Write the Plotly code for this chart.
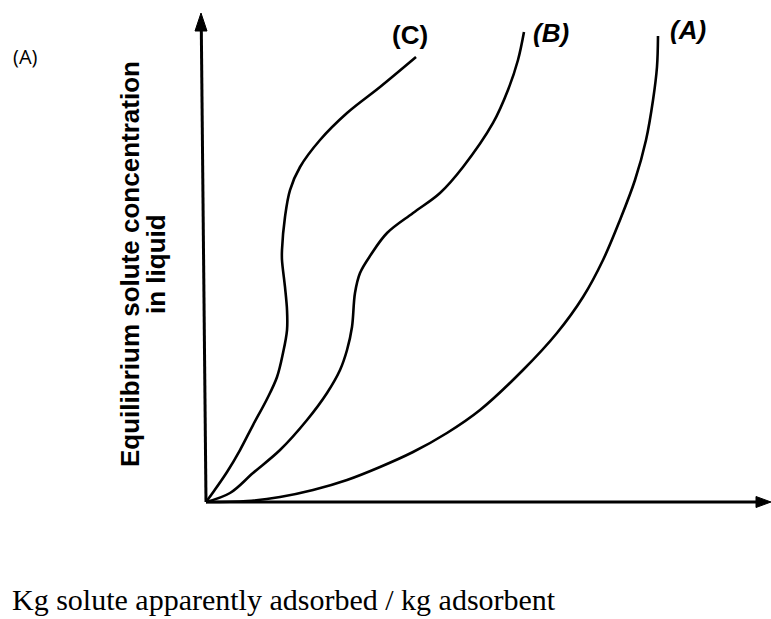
import plotly.graph_objects as go

# Curve data (arbitrary units, 0-100 on both axes)
curve_A_x = [0, 7.26, 13.1, 18.94, 24.96, 30.8, 36.64, 42.65, 48.5, 56.11, 62.12, 66.73, 70.27, 73.27, 75.93, 77.88, 79.12, 79.82, 80.0]
curve_A_y = [0, 0.2, 1.02, 2.45, 4.5, 7.16, 10.22, 14.11, 18.81, 26.99, 34.56, 41.92, 49.49, 57.67, 65.85, 74.03, 82.21, 88.96, 95.3]

curve_B_x = [0, 4.25, 8.32, 13.1, 17.88, 21.42, 23.72, 24.96, 25.84, 26.37, 27.26, 29.2, 32.04, 36.64, 41.42, 45.49, 50.8, 53.45, 55.22, 56.28]
curve_B_y = [0, 1.84, 5.93, 10.63, 16.77, 22.29, 26.99, 31.08, 35.79, 42.74, 46.83, 50.6, 55.01, 59.1, 63.19, 68.51, 77.51, 84.25, 90.39, 96.11]

curve_C_x = [0, 1.42, 3.72, 6.02, 8.32, 10.8, 12.57, 13.63, 14.34, 14.34, 13.98, 13.45, 13.45, 13.98, 14.87, 16.64, 20.18, 24.96, 30.8, 37.17]
curve_C_y = [0, 2.25, 6.13, 10.63, 15.74, 21.06, 25.56, 30.47, 35.17, 39.26, 43.97, 49.49, 51.53, 58.28, 63.8, 68.51, 74.03, 79.55, 84.87, 91.0]

curve_labels = ["(A)", "(B)", "(C)"]
y_label_lines = ["Equilibrium solute concentration", "in liquid"]
x_label = "Kg solute apparently adsorbed / kg adsorbent"
panel_label = "(A)"

W, H = 771, 619
ML, MR, MT, MB = 180, 0, 5, 100
X0PX, Y0PX = 206, 502
SX, SY = 5.65, 4.89
xr = [(ML - X0PX) / SX, (W - MR - X0PX) / SX]
yr = [(Y0PX - (H - MB)) / SY, (Y0PX - MT) / SY]


def dx(px):
    return (px - X0PX) / SX


def dy(py):
    return (Y0PX - py) / SY


def px_paper(px):
    return (px - ML) / (W - ML - MR)


def py_paper(py):
    return ((H - MB) - py) / (H - MT - MB)


fig = go.Figure()
line_style = dict(color="black", width=2.6, shape="spline", smoothing=1.0)
for xs, ys in [(curve_A_x, curve_A_y), (curve_B_x, curve_B_y), (curve_C_x, curve_C_y)]:
    fig.add_trace(go.Scatter(x=xs, y=ys, mode="lines", line=line_style,
                             hoverinfo="skip", showlegend=False))

shapes = [
    # x axis
    dict(type="line", xref="x", yref="y", x0=0, y0=0, x1=dx(758), y1=0,
         line=dict(color="black", width=3)),
    dict(type="path", xref="x", yref="y",
         path=f"M {dx(771)} {dy(502)} L {dx(756)} {dy(496.5)} L {dx(756)} {dy(507.5)} Z",
         fillcolor="black", line=dict(color="black", width=1)),
    # y axis (slightly slanted, as in the drawing)
    dict(type="line", xref="x", yref="y", x0=0, y0=0, x1=dx(201.3), y1=dy(28),
         line=dict(color="black", width=3)),
    dict(type="path", xref="x", yref="y",
         path=f"M {dx(201)} {dy(13)} L {dx(195)} {dy(31)} L {dx(207)} {dy(31)} Z",
         fillcolor="black", line=dict(color="black", width=1)),
]

bold = dict(family="Liberation Sans, Arial, sans-serif", size=26, color="black")
annotations = [
    dict(text=panel_label, xref="paper", yref="paper", x=px_paper(25), y=py_paper(57),
         showarrow=False, xanchor="center", yanchor="middle",
         font=dict(family="Open Sans, sans-serif", size=20, color="black")),
    dict(text="<b>" + y_label_lines[0] + "</b>", xref="paper", yref="paper",
         x=px_paper(130), y=py_paper(264), textangle=-90, showarrow=False,
         xanchor="center", yanchor="middle", font=bold),
    dict(text="<b>" + y_label_lines[1] + "</b>", xref="paper", yref="paper",
         x=px_paper(156), y=py_paper(264), textangle=-90, showarrow=False,
         xanchor="center", yanchor="middle", font=bold),
    dict(text="<b>" + curve_labels[2] + "</b>", xref="paper", yref="paper",
         x=px_paper(410), y=py_paper(35), showarrow=False,
         xanchor="center", yanchor="middle", font=bold),
    dict(text="<b><i>" + curve_labels[1] + "</i></b>", xref="paper", yref="paper",
         x=px_paper(551), y=py_paper(33), showarrow=False,
         xanchor="center", yanchor="middle", font=bold),
    dict(text="<b><i>" + curve_labels[0] + "</i></b>", xref="paper", yref="paper",
         x=px_paper(688), y=py_paper(30), showarrow=False,
         xanchor="center", yanchor="middle", font=bold),
    dict(text=x_label, xref="paper", yref="paper",
         x=px_paper(10), y=py_paper(599), showarrow=False,
         xanchor="left", yanchor="middle",
         font=dict(family="Liberation Serif, Times New Roman, serif", size=30, color="black")),
]

fig.update_layout(
    width=W, height=H,
    margin=dict(l=ML, r=MR, t=MT, b=MB),
    paper_bgcolor="white", plot_bgcolor="white",
    xaxis=dict(range=xr, visible=False, fixedrange=True),
    yaxis=dict(range=yr, visible=False, fixedrange=True),
    shapes=shapes, annotations=annotations,
    showlegend=False,
)

fig.write_html("out.html")
